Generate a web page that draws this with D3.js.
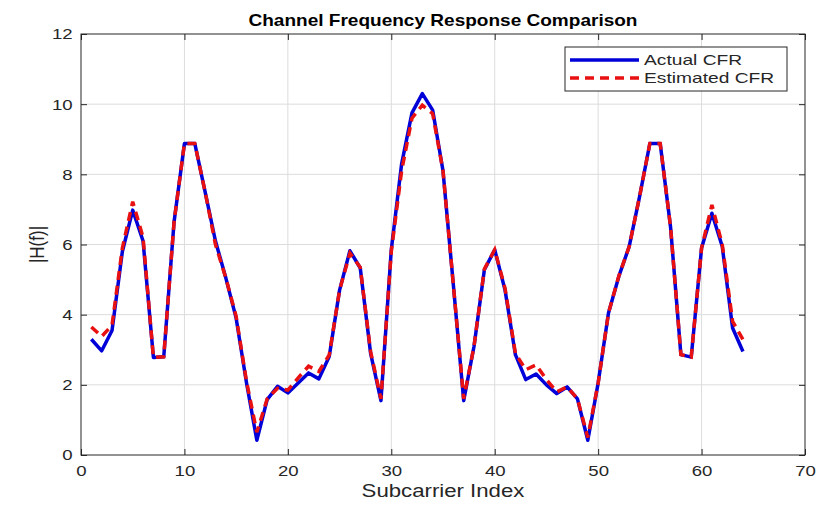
<!DOCTYPE html>
<html>
<head>
<meta charset="utf-8">
<script src="https://cdn.jsdelivr.net/npm/d3@7"></script>
<style>
  body { margin: 0; background: #fff; }
  text { font-family: "Liberation Sans", Arial, sans-serif; }
</style>
</head>
<body>
<div id="chart"></div>
<script>
// subcarrier magnitudes
const actualCFR = [3.3, 2.97, 3.55, 5.8, 6.98, 6.1, 2.78, 2.8, 6.65, 8.88,
  8.88, 7.5, 6.1, 5.05, 3.9, 2.06, 0.42, 1.58, 1.96, 1.77,
  2.05, 2.34, 2.17, 2.81, 4.7, 5.82, 5.33, 2.9, 1.55, 5.85,
  8.3, 9.75, 10.3, 9.83, 8.1, 4.85, 1.55, 3.1, 5.28, 5.85,
  4.7, 2.86, 2.15, 2.31, 2.0, 1.75, 1.94, 1.6, 0.42, 2.05,
  4.05, 5.09, 5.94, 7.36, 8.88, 8.88, 6.5, 2.86, 2.79, 5.9,
  6.89, 5.94, 3.62, 2.95];
const estimatedCFR = [3.65, 3.38, 3.7, 5.9, 7.22, 6.2, 2.78, 2.8, 6.65, 8.88,
  8.88, 7.5, 6.0, 5.05, 3.95, 2.1, 0.65, 1.6, 1.9, 1.85,
  2.2, 2.53, 2.38, 2.85, 4.7, 5.75, 5.35, 2.95, 1.6, 5.8,
  8.1, 9.6, 9.97, 9.73, 8.1, 4.85, 1.6, 3.1, 5.3, 5.85,
  4.75, 2.9, 2.43, 2.57, 2.15, 1.8, 1.94, 1.6, 0.5, 2.05,
  4.05, 5.1, 5.94, 7.36, 8.88, 8.88, 6.5, 2.86, 2.79, 5.9,
  7.13, 6.0, 3.81, 3.29];
const xTicks = [0, 10, 20, 30, 40, 50, 60, 70];
const yTicks = [0, 2, 4, 6, 8, 10, 12];
const seriesNames = ["Actual CFR", "Estimated CFR"];

const margin = {top: 34, right: 15, bottom: 55, left: 81};
const W = 820, H = 510;
const width = W - margin.left - margin.right;
const height = H - margin.top - margin.bottom;
// the original figure is stretched sideways, so is its text
const stretch = 1.2;

const svg = d3.select('#chart').append('svg')
  .attr('width', W).attr('height', H);

const g = svg.append('g')
  .attr('transform', 'translate(' + margin.left + ',' + margin.top + ')');

const x = d3.scaleLinear().domain([0, 70]).range([0, width]);
const y = d3.scaleLinear().domain([0, 12]).range([height, 0]);

// grid
g.append('g').selectAll('line.vg')
  .data(xTicks.slice(1, -1))
  .enter().append('line')
  .attr('x1', d => x(d)).attr('x2', d => x(d))
  .attr('y1', 0).attr('y2', height)
  .attr('stroke', '#dcdcdc').attr('stroke-width', 1);
g.append('g').selectAll('line.hg')
  .data(yTicks.slice(1, -1))
  .enter().append('line')
  .attr('x1', 0).attr('x2', width)
  .attr('y1', d => y(d)).attr('y2', d => y(d))
  .attr('stroke', '#dcdcdc').attr('stroke-width', 1);

// axes, ticks pointing inward on all four sides
const tickLen = 6;
function styleAxis(sel) {
  sel.select('.domain').remove();
  sel.selectAll('line').attr('stroke', '#262626');
  sel.selectAll('text').attr('fill', '#262626').style('font-size', '15.5px')
    .attr('transform', 'scale(' + stretch + ',1)');
}
g.append('g').attr('transform', 'translate(0,' + height + ')')
  .call(d3.axisBottom(x).tickValues(xTicks).tickSize(-tickLen).tickPadding(10))
  .call(styleAxis);
g.append('g')
  .call(d3.axisTop(x).tickValues(xTicks).tickSize(-tickLen).tickFormat(''))
  .call(styleAxis);
g.append('g')
  .call(d3.axisLeft(y).tickValues(yTicks).tickSize(-tickLen).tickPadding(7))
  .call(styleAxis);
g.append('g').attr('transform', 'translate(' + width + ',0)')
  .call(d3.axisRight(y).tickValues(yTicks).tickSize(-tickLen).tickFormat(''))
  .call(styleAxis);

g.append('rect')
  .attr('width', width).attr('height', height)
  .attr('fill', 'none').attr('stroke', '#262626').attr('stroke-width', 1);

// lines
const line = d3.line()
  .x((d, i) => x(i + 1))
  .y(d => y(d));

g.append('path')
  .datum(actualCFR)
  .attr('fill', 'none')
  .attr('stroke', '#0000d8')
  .attr('stroke-width', 3.5)
  .attr('stroke-linejoin', 'round')
  .attr('d', line);

g.append('path')
  .datum(estimatedCFR)
  .attr('fill', 'none')
  .attr('stroke', '#e81010')
  .attr('stroke-width', 3.5)
  .attr('stroke-dasharray', '9,6')
  .attr('d', line);

// legend
const legend = g.append('g').attr('transform', 'translate(484,13)');
legend.append('rect')
  .attr('width', 222).attr('height', 44)
  .attr('fill', '#fff').attr('stroke', '#262626').attr('stroke-width', 1);
const items = legend.selectAll('g.item')
  .data(seriesNames)
  .enter().append('g')
  .attr('transform', (d, i) => 'translate(0,' + (13 + i * 18) + ')');
items.append('line')
  .attr('x1', 5).attr('x2', 74)
  .attr('stroke', (d, i) => i ? '#e81010' : '#0000d8')
  .attr('stroke-width', 3.5)
  .attr('stroke-dasharray', (d, i) => i ? '9,6' : null);
items.append('text')
  .attr('transform', 'translate(79,0) scale(1.28,1)')
  .attr('dy', '0.35em')
  .attr('fill', '#262626')
  .style('font-size', '15px')
  .text(d => d);

// labels
svg.append('text')
  .attr('transform', 'translate(' + (margin.left + width / 2) + ',26) scale(1.12,1)')
  .attr('text-anchor', 'middle')
  .style('font-size', '17px').style('font-weight', 'bold')
  .attr('fill', '#000')
  .text('Channel Frequency Response Comparison');

svg.append('text')
  .attr('transform', 'translate(' + (margin.left + width / 2) + ',497) scale(' + stretch + ',1)')
  .attr('text-anchor', 'middle')
  .style('font-size', '18.5px')
  .attr('fill', '#262626')
  .text('Subcarrier Index');

svg.append('text')
  .attr('transform', 'translate(44,' + (margin.top + height / 2) + ') scale(' + stretch + ',1) rotate(-90)')
  .attr('text-anchor', 'middle')
  .style('font-size', '17px')
  .attr('fill', '#262626')
  .text('|H(f)|');
</script>
</body>
</html>
